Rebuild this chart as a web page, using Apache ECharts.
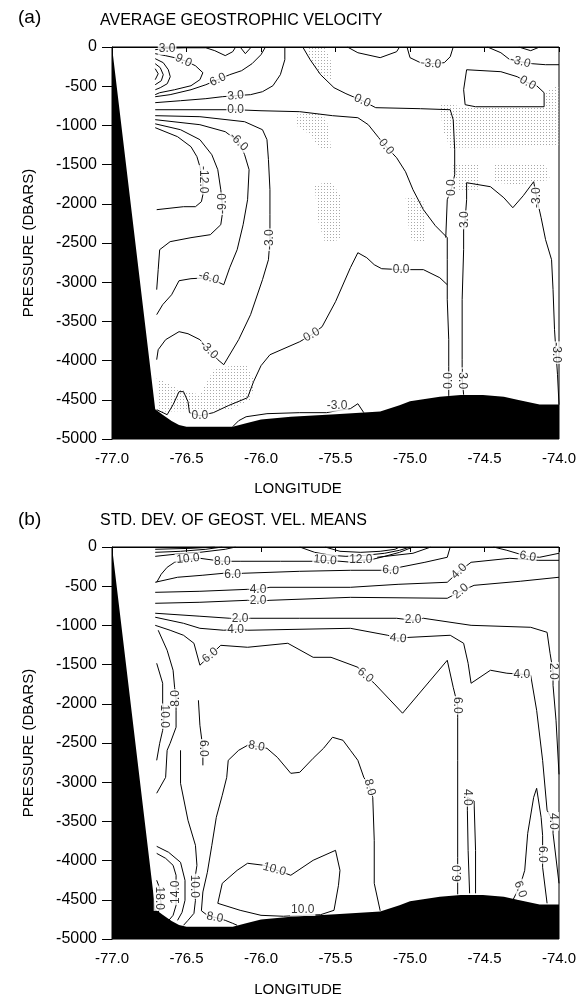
<!DOCTYPE html>
<html><head><meta charset="utf-8">
<script src="https://cdn.jsdelivr.net/npm/echarts@6/dist/echarts.min.js"></script>
<style>html,body{margin:0;padding:0;background:#fff}#c{width:584px;height:1006px}</style>
</head><body><div id="c"></div>
<script>
// ---------- axes ----------
const LON_MIN = -77, LON_MAX = -74, LON_STEP = 0.5;
const P_MIN = -5000, P_MAX = 0, P_STEP = 500;

// ---------- bottom topography (lon, pressure) ----------
const BATHY = [[-77,0],[-76.71,-4620],[-76.66,-4690],[-76.6,-4770],[-76.55,-4820],[-76.5,-4845],[-76.19,-4845],[-76.1,-4800],[-76.0,-4750],[-75.8,-4715],[-75.5,-4685],[-75.2,-4650],[-75.07,-4570],[-75.0,-4520],[-74.8,-4460],[-74.66,-4440],[-74.51,-4440],[-74.37,-4460],[-74.28,-4500],[-74.13,-4560],[-74.0,-4560],[-74.0,-5000],[-77,-5000]];

// ---------- panel (a) contours ----------
const A_C3TOP = [[-76.71,-34],[-76.61,-15],[-76.51,-10],[-76.37,-10],[-76.31,-47],[-76.24,-110],[-76.19,-60],[-76.17,0]];
const A_NOTCH = [[-76.14,0],[-76.105,-85],[-76.065,0]];
const A_C9 = [[-76.71,-85],[-76.64,-111],[-76.58,-136],[-76.51,-175],[-76.44,-239],[-76.39,-328],[-76.41,-417],[-76.47,-494],[-76.58,-545],[-76.68,-583],[-76.71,-608]];
const A_ARC1 = [[-76.71,-149],[-76.656,-200],[-76.622,-290],[-76.609,-379],[-76.629,-468],[-76.676,-519],[-76.709,-545]];
const A_ARC2 = [[-76.71,-213],[-76.676,-264],[-76.656,-353],[-76.669,-430],[-76.71,-481]];
const A_ARC3 = [[-76.71,-277],[-76.69,-341],[-76.71,-417]];
const A_C6 = [[-76.71,-634],[-76.61,-608],[-76.47,-545],[-76.37,-481],[-76.29,-417],[-76.21,-353],[-76.13,-302],[-76.06,-213],[-76.0,-98],[-75.97,0]];
const A_C3 = [[-76.71,-710],[-76.54,-685],[-76.37,-659],[-76.26,-634],[-76.17,-621],[-76.07,-608],[-75.99,-570],[-75.92,-494],[-75.87,-353],[-75.84,-162],[-75.84,0]];
const A_C0 = [[-76.71,-800],[-76.47,-800],[-76.17,-800],[-76.0,-813],[-75.74,-825],[-75.52,-876],[-75.35,-902],[-75.28,-991],[-75.21,-1157],[-75.16,-1272],[-75.09,-1412],[-75.03,-1591],[-74.98,-1820],[-74.91,-2075],[-74.83,-2279],[-74.75,-2432],[-74.75,-2713],[-74.75,-3223],[-74.74,-3733],[-74.74,-4078],[-74.74,-4256],[-74.74,-4450]];
const A_C0B = [[-75.72,0],[-75.67,-162],[-75.60,-353],[-75.51,-519],[-75.43,-595],[-75.32,-685],[-75.23,-774],[-74.93,-787],[-74.73,-800],[-74.71,-927],[-74.70,-1310],[-74.70,-1629],[-74.72,-1795],[-74.75,-1948],[-74.76,-2432]];
const A_C0C = [[-76.70,-4626],[-76.63,-4690],[-76.59,-4562],[-76.55,-4396],[-76.52,-4396],[-76.49,-4524],[-76.48,-4664],[-76.41,-4703],[-76.32,-4664],[-76.22,-4575],[-76.09,-4473],[-76.05,-4269],[-76.0,-4065],[-75.94,-3925],[-75.74,-3759],[-75.66,-3670],[-75.59,-3568],[-75.50,-3249],[-75.40,-2815],[-75.35,-2624],[-75.29,-2688],[-75.24,-2777],[-75.19,-2828],[-75.06,-2840],[-74.91,-2840],[-74.80,-2943],[-74.75,-3032]];
const A_C0LOOP = [[-74.62,-290],[-74.64,-545],[-74.63,-736],[-74.56,-762],[-74.10,-762],[-74.10,-583],[-74.15,-494],[-74.21,-456],[-74.28,-379],[-74.39,-315],[-74.62,-290]];
const A_M3TOPA = [[-75.02,0],[-75.0,-136],[-74.93,-200],[-74.86,-213],[-74.77,-200],[-74.73,-124],[-74.71,0]];
const A_TOPDIP = [[-75.42,0],[-75.35,-73],[-75.20,-136],[-75.09,-60],[-75.07,0]];
const A_M3TOPR = [[-74.48,0],[-74.39,-73],[-74.33,-162],[-74.26,-187],[-74.18,-213],[-74.09,-226],[-74.0,-226]];
const A_ARCR = [[-74.27,0],[-74.19,-47],[-74.13,0]];
const A_M3RIGHT = [[-74.64,-4435],[-74.65,-4231],[-74.65,-3988],[-74.65,-3223],[-74.64,-2585],[-74.64,-2330],[-74.63,-2203],[-74.62,-1948],[-74.62,-1731],[-74.46,-1782],[-74.37,-1923],[-74.31,-2050],[-74.24,-1897],[-74.17,-1718],[-74.15,-1922],[-74.12,-2177],[-74.09,-2458],[-74.05,-2713],[-74.04,-3095],[-74.03,-3606],[-74.02,-3899],[-74.01,-4180],[-74.0,-4562]];
const A_M3LEFT = [[-76.71,-876],[-76.41,-889],[-76.11,-953],[-75.99,-1055],[-75.96,-1182],[-75.95,-1437],[-75.94,-1820],[-75.94,-2139],[-75.94,-2458],[-75.95,-2713],[-75.99,-2968],[-76.07,-3414],[-76.15,-3733],[-76.25,-4052],[-76.29,-3988],[-76.35,-3861],[-76.41,-3733],[-76.49,-3657],[-76.55,-3631],[-76.64,-3733],[-76.69,-3861],[-76.70,-3988]];
const A_M6 = [[-76.71,-927],[-76.41,-991],[-76.24,-1080],[-76.15,-1208],[-76.11,-1374],[-76.08,-1565],[-76.09,-1948],[-76.12,-2267],[-76.16,-2585],[-76.21,-2815],[-76.25,-3032],[-76.35,-2943],[-76.47,-2955],[-76.55,-2981],[-76.60,-3160],[-76.66,-3287],[-76.70,-3414]];
const A_M9 = [[-76.71,-980],[-76.54,-1055],[-76.41,-1182],[-76.33,-1374],[-76.29,-1565],[-76.27,-1820],[-76.26,-1999],[-76.26,-2139],[-76.27,-2267],[-76.34,-2394],[-76.47,-2432],[-76.61,-2483],[-76.68,-2585],[-76.69,-2840],[-76.70,-3095]];
const A_M12 = [[-76.71,-1029],[-76.56,-1144],[-76.47,-1272],[-76.43,-1399],[-76.41,-1527],[-76.39,-1693],[-76.39,-1884],[-76.40,-1973],[-76.44,-2037],[-76.52,-2037],[-76.70,-2075]];
const A_M3BOT = [[-76.19,-4843],[-76.15,-4767],[-76.10,-4716],[-75.96,-4677],[-75.74,-4664],[-75.56,-4664],[-75.49,-4639],[-75.40,-4613],[-75.35,-4550],[-75.31,-4664]];
const A_LINES = [A_C3TOP,A_NOTCH,A_C9,A_ARC1,A_ARC2,A_ARC3,A_C6,A_C3,A_C0,A_C0B,A_C0C,A_C0LOOP,A_M3TOPA,A_TOPDIP,A_M3TOPR,A_ARCR,A_M3RIGHT,A_M3LEFT,A_M6,A_M9,A_M12,A_M3BOT];

// contour labels of panel (a): [lon, pressure, text]
const A_LABELS = [
  [-76.63,-25,'3.0'],[-76.52,-172,'9.0'],[-76.29,-417,'6.0'],[-76.17,-621,'3.0'],
  [-76.17,-800,'0.0'],[-75.16,-1272,'0.0'],[-74.74,-4256,'0.0'],[-75.32,-685,'0.0'],
  [-74.72,-1795,'0.0'],[-76.41,-4703,'0.0'],[-75.66,-3670,'0.0'],[-75.06,-2840,'0.0'],
  [-74.21,-456,'0.0'],[-74.86,-213,'-3.0'],[-74.26,-187,'-3.0'],[-74.65,-4231,'-3.0'],
  [-74.63,-2203,'3.0'],[-74.15,-1922,'-3.0'],[-74.02,-3899,'-3.0'],[-75.94,-2458,'-3.0'],
  [-76.35,-3861,'-3.0'],[-76.15,-1208,'-6.0'],[-76.35,-2943,'-6.0'],[-76.26,-1999,'-9.0'],
  [-76.39,-1693,'-12.0'],[-75.49,-4575,'-3.0']
];
const A_LABEL_ROT = [0,-25,25,5, 0,-50,90,-25, 90,0,30,0, -30,-5,-15,-90, 90,90,-90,90, -45,-45,-15,90, -90,0];

// stippled areas of panel (a)
const A_STIPPLE = [
  [[-75.69,0],[-75.57,0],[-75.52,-226],[-75.53,-417],[-75.61,-353],[-75.67,-162]],
  [[-75.77,-864],[-75.59,-838],[-75.55,-991],[-75.53,-1284],[-75.60,-1310],[-75.67,-1119],[-75.77,-991]],
  [[-75.64,-1757],[-75.53,-1718],[-75.47,-1884],[-75.47,-2458],[-75.57,-2496],[-75.62,-2203]],
  [[-74.80,-711],[-74.60,-774],[-74.09,-774],[-74.09,-570],[-74.0,-481],[-74.0,-1272],[-74.73,-1284],[-74.78,-1055]],
  [[-74.71,-1501],[-74.54,-1501],[-74.54,-1820],[-74.70,-1820]],
  [[-74.44,-1501],[-74.09,-1501],[-74.06,-1693],[-74.26,-1757],[-74.43,-1731]],
  [[-75.03,-1910],[-74.91,-1948],[-74.90,-2496],[-75.0,-2458]],
  [[-76.70,-4218],[-76.54,-4371],[-76.41,-4435],[-76.31,-4090],[-76.10,-4052],[-76.04,-4282],[-76.07,-4498],[-76.21,-4626],[-76.68,-4652]]
];

// ---------- panel (b) contours ----------
const B_TOP1 = [[-76.71,-29],[-76.47,-17],[-76.31,0]];
const B_TOP2 = [[-76.71,-68],[-76.54,-55],[-76.37,-29],[-76.26,0]];
const B_TOP3 = [[-76.71,-119],[-76.58,-93],[-76.41,-68],[-76.24,-29],[-76.17,0]];
const B_10A = [[-76.70,-450],[-76.67,-348],[-76.63,-259],[-76.58,-195],[-76.49,-157],[-76.41,-144],[-76.31,-170],[-76.25,-182],[-76.14,-182],[-75.87,-182],[-75.65,-182],[-75.57,-170],[-75.47,-182],[-75.39,-195],[-75.33,-170],[-75.25,-157],[-75.17,-119],[-75.07,-68],[-74.98,0]];
const B_ARC1 = [[-75.74,0],[-75.64,-68],[-75.53,-106],[-75.43,-119],[-75.30,-106],[-75.17,-80],[-75.07,-42],[-75.0,0]];
const B_ARC2 = [[-75.57,0],[-75.47,-55],[-75.33,-68],[-75.20,-55],[-75.10,-29],[-75.07,0]];
const B_12R = [[-75.22,-131],[-74.98,-80],[-74.86,0]];
const B_6TR = [[-74.44,0],[-74.35,-42],[-74.26,-93],[-74.21,-119],[-74.13,-131],[-74.0,-80]];
const B_6 = [[-76.71,-450],[-76.56,-386],[-76.39,-360],[-76.25,-335],[-76.19,-348],[-76.12,-335],[-75.74,-310],[-75.40,-297],[-75.20,-297],[-75.13,-297],[-75.07,-259],[-74.90,-195],[-74.75,-131],[-74.73,0]];
const B_4 = [[-76.71,-578],[-76.41,-565],[-76.09,-540],[-76.02,-540],[-75.94,-514],[-75.40,-514],[-75.08,-476],[-74.75,-450],[-74.67,-310],[-74.59,-195],[-74.33,-144],[-74.14,-170],[-74.0,-170]];
const B_2U = [[-76.71,-718],[-76.41,-705],[-76.09,-680],[-76.02,-693],[-75.94,-680],[-75.40,-642],[-74.75,-654],[-74.66,-565],[-74.57,-489],[-74.26,-437],[-74.0,-386]];
const B_2L = [[-76.71,-845],[-76.41,-883],[-76.21,-909],[-76.14,-922],[-76.07,-909],[-75.74,-909],[-75.09,-909],[-74.98,-935],[-74.91,-909],[-74.59,-999],[-74.19,-1024],[-74.08,-1088],[-74.06,-1356],[-74.04,-1585],[-74.04,-1764],[-74.02,-2210],[-74.0,-2900]];
const B_4L = [[-76.71,-896],[-76.52,-973],[-76.41,-1037],[-76.25,-1062],[-76.17,-1050],[-76.09,-1062],[-75.40,-1037],[-75.15,-1126],[-75.08,-1164],[-75.0,-1152],[-74.73,-1126],[-74.64,-1228],[-74.61,-1483],[-74.59,-1738],[-74.46,-1572],[-74.35,-1610],[-74.25,-1623],[-74.19,-1636],[-74.15,-2083],[-74.11,-2721],[-74.08,-3358],[-74.04,-3499],[-74.04,-3652],[-74.0,-4290]];
const B_6MID = [[-76.71,-999],[-76.61,-1062],[-76.52,-1126],[-76.45,-1228],[-76.41,-1508],[-76.34,-1381],[-76.27,-1254],[-76.09,-1279],[-75.82,-1228],[-75.65,-1407],[-75.53,-1407],[-75.35,-1534],[-75.30,-1636],[-75.24,-1738],[-75.05,-2120],[-74.75,-1445],[-74.71,-1789],[-74.68,-2019],[-74.68,-2172],[-74.68,-2721],[-74.68,-3958],[-74.68,-4162],[-74.68,-4430]];
const B_8L = [[-76.69,-1062],[-76.63,-1317],[-76.59,-1572],[-76.58,-1789],[-76.57,-1930],[-76.57,-2083],[-76.57,-2299],[-76.61,-2504],[-76.63,-2593],[-76.64,-2938],[-76.70,-3141]];
const B_10L = [[-76.70,-1483],[-76.66,-1738],[-76.66,-1993],[-76.65,-2159],[-76.66,-2338],[-76.68,-2504],[-76.70,-2721]];
const B_6V = [[-76.42,-1955],[-76.41,-2274],[-76.39,-2568],[-76.39,-2785]];
const B_8BIG = [[-76.16,-4825],[-76.19,-4800],[-76.24,-4762],[-76.31,-4724],[-76.36,-4698],[-76.40,-4640],[-76.39,-4400],[-76.36,-4149],[-76.33,-3805],[-76.30,-3448],[-76.26,-3167],[-76.23,-2938],[-76.22,-2721],[-76.15,-2593],[-76.09,-2529],[-76.03,-2542],[-75.96,-2568],[-75.89,-2683],[-75.80,-2887],[-75.74,-2874],[-75.65,-2695],[-75.58,-2567],[-75.52,-2427],[-75.45,-2465],[-75.40,-2593],[-75.35,-2721],[-75.31,-2938],[-75.27,-3065],[-75.25,-3193],[-75.24,-3741],[-75.24,-4290],[-75.20,-4640]];
const B_10U = [[-75.51,-4634],[-75.48,-4315],[-75.47,-4124],[-75.50,-3869],[-75.65,-3996],[-75.80,-4187],[-75.91,-4111],[-75.98,-4060],[-76.09,-4034],[-76.16,-4124],[-76.26,-4290],[-76.29,-4545],[-76.14,-4634],[-76.0,-4698],[-75.85,-4710],[-75.72,-4698],[-75.60,-4690],[-75.51,-4634]];
const B_6SPIKE = [[-74.31,-4506],[-74.26,-4315],[-74.23,-4124],[-74.21,-3652],[-74.17,-3193],[-74.15,-3078],[-74.12,-3448],[-74.11,-3678],[-74.11,-3920],[-74.11,-4085],[-74.08,-4545]];
const B_4LOOP = [[-74.60,-4417],[-74.61,-3869],[-74.615,-3358],[-74.615,-3193],[-74.57,-3240],[-74.56,-3869],[-74.56,-4417]];
const B_10LOW = [[-76.54,-2593],[-76.54,-3014],[-76.49,-3486],[-76.44,-3805],[-76.43,-4060],[-76.44,-4187],[-76.45,-4328],[-76.44,-4507],[-76.45,-4673],[-76.49,-4762],[-76.52,-4825]];
const B_12 = [[-76.70,-3818],[-76.62,-3894],[-76.54,-4022],[-76.51,-4251],[-76.51,-4506],[-76.53,-4660],[-76.56,-4762]];
const B_14 = [[-76.70,-3908],[-76.64,-3971],[-76.59,-4060],[-76.57,-4187],[-76.57,-4404],[-76.57,-4570],[-76.59,-4698],[-76.63,-4787]];
const B_18 = [[-76.70,-4251],[-76.68,-4353],[-76.67,-4570],[-76.69,-4660]];
const B_LINES = [B_TOP1,B_TOP2,B_TOP3,B_10A,B_ARC1,B_ARC2,B_12R,B_6TR,B_6,B_4,B_2U,B_2L,B_4L,B_6MID,B_8L,B_10L,B_6V,B_8BIG,B_10U,B_6SPIKE,B_4LOOP,B_10LOW,B_12,B_14,B_18];

const B_LABELS = [
  [-76.49,-150,'10.0'],[-76.26,-182,'8.0'],[-75.57,-165,'10.0'],[-75.33,-160,'12.0'],
  [-74.21,-119,'6.0'],[-76.19,-348,'6.0'],[-75.13,-297,'6.0'],[-76.02,-545,'4.0'],
  [-74.67,-310,'4.0'],[-76.02,-690,'2.0'],[-74.66,-565,'2.0'],[-76.14,-918,'2.0'],
  [-74.98,-930,'2.0'],[-74.04,-1585,'2.0'],[-76.17,-1050,'4.0'],[-75.08,-1164,'4.0'],
  [-74.25,-1623,'4.0'],[-74.04,-3499,'4.0'],[-76.34,-1381,'6.0'],[-75.30,-1636,'6.0'],
  [-74.68,-2019,'6.0'],[-74.68,-4162,'6.0'],[-76.57,-1930,'8.0'],[-76.65,-2159,'10.0'],
  [-76.31,-4724,'8.0'],[-76.03,-2542,'8.0'],[-75.27,-3065,'8.0'],[-75.91,-4111,'10.0'],
  [-75.72,-4630,'10.0'],[-74.26,-4366,'6.0'],[-74.11,-3920,'6.0'],[-74.615,-3193,'4.0'],
  [-76.45,-4328,'10.0'],[-76.57,-4404,'14.0'],[-76.68,-4480,'18.0'],[-76.39,-2568,'6.0']
];
const B_LABEL_ROT = [5,0,-5,0, -10,0,-5,0, 45,0,40,0, 0,-90,0,-5, 0,-90,40,-40, -90,90,90,-90, -10,-10,-75,-15, 0,-70,-90,-90, -90,90,-90,-90];

// ---------- text ----------
const TITLES = ['AVERAGE GEOSTROPHIC VELOCITY', 'STD. DEV. OF GEOST. VEL. MEANS'];
const PANEL_TAGS = ['(a)', '(b)'];
const X_NAME = 'LONGITUDE';
const Y_NAME = 'PRESSURE (DBARS)';

// ---------- build ----------
const FONT = '"Liberation Sans", Arial, Helvetica, sans-serif';
const GRID_TOP = [47, 547];
const chart = echarts.init(document.getElementById('c'), null, {renderer: 'canvas'});

const pc = document.createElement('canvas');
pc.width = 3; pc.height = 3;
const g = pc.getContext('2d');
g.fillStyle = '#a8a8a8'; g.fillRect(0, 0, 1, 1);

function polySeries(polys, idx, fill, z) {
  return {
    type: 'custom', xAxisIndex: idx, yAxisIndex: idx, silent: true, z: z, animation: false,
    data: polys.map(p => p[0]),
    renderItem: (params, api) => ({
      type: 'polygon',
      shape: {points: polys[params.dataIndex].map(pt => api.coord(pt))},
      style: {fill: fill, stroke: null}
    })
  };
}
function lineSeries(arr, idx) {
  return {type: 'line', xAxisIndex: idx, yAxisIndex: idx, data: arr, symbol: 'none', silent: true,
    animation: false, lineStyle: {color: '#000', width: 1}, z: 2};
}
function labelSeries(labels, rots, idx) {
  return {
    type: 'scatter', xAxisIndex: idx, yAxisIndex: idx, symbolSize: 0, silent: true, animation: false, z: 6,
    data: labels.map((l, i) => ({value: [l[0], l[1]], name: l[2], label: {rotate: rots[i]}})),
    label: {show: true, position: 'inside', formatter: '{b}', fontFamily: FONT, fontSize: 12, color: '#000',
      backgroundColor: '#fff', padding: [0, 1]}
  };
}

const grids = GRID_TOP.map(t => ({left: 112, top: t, width: 447, height: 392, show: true,
  borderColor: '#000', borderWidth: 1, backgroundColor: 'transparent'}));
const xAxes = GRID_TOP.map((t, i) => ({
  type: 'value', gridIndex: i, min: LON_MIN, max: LON_MAX, interval: LON_STEP,
  axisLine: {show: true, lineStyle: {color: '#000'}}, splitLine: {show: false},
  axisTick: {show: true, length: 5, lineStyle: {color: '#000'}},
  axisLabel: {formatter: v => v.toFixed(1), fontFamily: FONT, fontSize: 15, color: '#000', margin: 12}
}));
const yAxes = GRID_TOP.map((t, i) => ({
  type: 'value', gridIndex: i, min: P_MIN, max: P_MAX, interval: P_STEP,
  name: Y_NAME, nameLocation: 'middle', nameGap: 76, nameRotate: 90,
  nameTextStyle: {fontFamily: FONT, fontSize: 15, color: '#000'},
  axisLine: {show: true, lineStyle: {color: '#000'}}, splitLine: {show: false},
  axisTick: {show: true, length: 10, lineStyle: {color: '#000'}},
  axisLabel: {formatter: v => String(Math.round(v)), fontFamily: FONT, fontSize: 16, color: '#000', margin: 15}
}));

const series = [];
series.push(polySeries(A_STIPPLE, 0, {image: pc, repeat: 'repeat'}, 1));
A_LINES.forEach(a => series.push(lineSeries(a, 0)));
B_LINES.forEach(a => series.push(lineSeries(a, 1)));
series.push(polySeries([BATHY], 0, '#000', 4));
series.push(polySeries([BATHY], 1, '#000', 4));
series.push(labelSeries(A_LABELS, A_LABEL_ROT, 0));
series.push(labelSeries(B_LABELS, B_LABEL_ROT, 1));

const txt = (s, x, y, size, align) => ({type: 'text', x: x, y: y, silent: true,
  style: {text: s, font: size + 'px ' + FONT, fill: '#000', align: align, verticalAlign: 'middle',
    textAlign: align, textVerticalAlign: 'middle'}});
const graphic = [
  txt(PANEL_TAGS[0], 18, 18, 19, 'left'), txt(TITLES[0], 100, 21, 16, 'left'),
  txt(X_NAME, 298, 489, 15, 'center'),
  txt(PANEL_TAGS[1], 18, 520, 19, 'left'), txt(TITLES[1], 100, 521, 16, 'left'),
  txt(X_NAME, 298, 990, 15, 'center')
];

chart.setOption({animation: false, backgroundColor: '#fff', grid: grids, xAxis: xAxes, yAxis: yAxes,
  series: series, graphic: graphic});
</script></body></html>
